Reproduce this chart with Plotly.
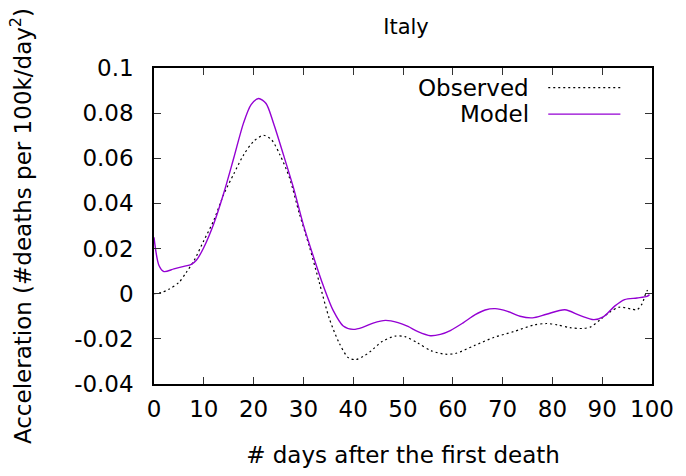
import plotly.graph_objects as go

# Observed acceleration, Italy
obs_days = [0, 1.5, 3, 5, 6.5, 8, 10, 12, 14, 16, 18, 20, 22, 23.6, 25.3, 27.2, 29.2,
            31.2, 33.2, 35.2, 37.2, 39, 40.5, 42, 43.5, 45.8, 48.4, 50.4, 53, 55.7,
            58.5, 60.5, 64.3, 68.2, 72.2, 76.2, 78.8, 81, 83.5, 86, 87.7, 89.7, 91.5,
            93.4, 95.7, 97, 98, 99, 99.5]
obs_vals = [0.0, 0.0005, 0.002, 0.005, 0.0095, 0.0145, 0.0235, 0.0325, 0.044, 0.053,
            0.0615, 0.0675, 0.0702, 0.0682, 0.0615, 0.0514, 0.0354, 0.0209, 0.0049,
            -0.011, -0.0219, -0.0283, -0.0292, -0.0278, -0.0255, -0.0212, -0.0188,
            -0.019, -0.0219, -0.0253, -0.0268, -0.0265, -0.023, -0.0194, -0.0168,
            -0.0139, -0.0132, -0.0138, -0.015, -0.0154, -0.0147, -0.0113, -0.0082,
            -0.006, -0.0067, -0.0071, -0.0045, 0.0013, 0.002]

# Model acceleration, Italy
mod_days = [0, 1, 2, 4, 6, 7.5, 8.5, 10, 12, 14, 16, 18, 19.5, 21, 22.5, 24, 26, 28,
            30, 32, 34, 36, 38, 40, 42, 44, 46.5, 49, 51, 53, 55.5, 57.5, 59.5, 62,
            64.5, 66.5, 68.5, 71, 73.5, 76, 78.8, 82.5, 85.5, 88.3, 90.2, 92.5, 94.5,
            97, 99, 99.5]
mod_vals = [0.025, 0.0125, 0.0098, 0.011, 0.0121, 0.013, 0.0148, 0.0205, 0.031, 0.0445,
            0.060, 0.0758, 0.0838, 0.0865, 0.0843, 0.0755, 0.0615, 0.047, 0.0305,
            0.0165, 0.0035, -0.0075, -0.0143, -0.0158, -0.0148, -0.013, -0.0118,
            -0.0128, -0.0145, -0.0168, -0.0186, -0.018, -0.0163, -0.013, -0.0093,
            -0.0072, -0.0066, -0.0078, -0.0100, -0.0107, -0.0091, -0.0071, -0.0096,
            -0.0115, -0.0103, -0.0055, -0.0026, -0.0019, -0.0012, -0.0004]

x_ticks = [0, 10, 20, 30, 40, 50, 60, 70, 80, 90, 100]
y_ticks = [-0.04, -0.02, 0, 0.02, 0.04, 0.06, 0.08, 0.1]
y_tick_text = ["-0.04", "-0.02", "0", "0.02", "0.04", "0.06", "0.08", "0.1"]

OBS_COLOR = "black"
MOD_COLOR = "#9400D3"
FONT = "DejaVu Sans, Verdana, sans-serif"
FS = 23

fig = go.Figure()
fig.add_trace(go.Scatter(x=obs_days, y=obs_vals, mode="lines", name="Observed",
                         line=dict(color=OBS_COLOR, width=1.2, dash="2px,3px",
                                   shape="spline", smoothing=0.8),
                         showlegend=False))
fig.add_trace(go.Scatter(x=mod_days, y=mod_vals, mode="lines", name="Model",
                         line=dict(color=MOD_COLOR, width=1.4,
                                   shape="spline", smoothing=0.8),
                         showlegend=False))

# gnuplot-style key: right-aligned label followed by a line sample
W, H = 504.0, 322.0
L, T = 154.0, 68.0

def px(x):
    return (x - L) / W

def py(y):
    return (T + H - y) / H

key = [("Observed", OBS_COLOR, "dot", 88), ("Model", MOD_COLOR, "solid", 115)]
for label, color, dash, ypix in key:
    fig.add_annotation(x=px(536), y=py(ypix), xref="paper", yref="paper",
                       text=label, showarrow=False, xanchor="right", yanchor="middle",
                       font=dict(family=FONT, size=FS, color="black"))
    fig.add_shape(type="line", xref="paper", yref="paper",
                  x0=px(553), x1=px(626), y0=py(ypix), y1=py(ypix),
                  line=dict(color=color, width=1.2,
                            dash="2px,3px" if dash == "dot" else "solid"))

axis_common = dict(showline=True, linecolor="black", linewidth=1.5, mirror="ticks",
                   ticks="inside", ticklen=7, tickwidth=1, tickcolor="#333",
                   showgrid=False, zeroline=False,
                   tickfont=dict(family=FONT, size=FS, color="black"))

fig.update_layout(
    width=686, height=476,
    margin=dict(l=154, r=28, t=68, b=86),
    paper_bgcolor="white", plot_bgcolor="white",
    title=dict(text="Italy", x=(L + W / 2) / 686, xanchor="center", y=1 - 27 / 476,
               yanchor="middle", font=dict(family=FONT, size=21, color="black")),
    xaxis=dict(range=[0, 100], tickvals=x_ticks, ticklabelstandoff=4,
               title=dict(text="# days after the first death", standoff=26,
                          font=dict(family=FONT, size=FS, color="black")),
               **axis_common),
    yaxis=dict(range=[-0.04, 0.1], tickvals=y_ticks, ticktext=y_tick_text,
               ticklabelstandoff=14,
               title=dict(text="Acceleration (#deaths per 100k/day<sup>2</sup>)",
                          standoff=36,
                          font=dict(family=FONT, size=FS, color="black")),
               **axis_common),
)

fig.write_html("out.html")
